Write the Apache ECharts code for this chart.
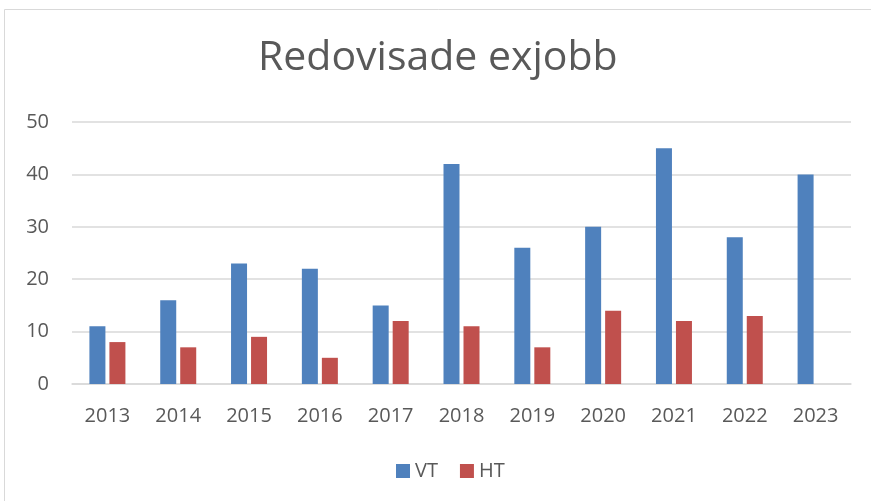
<!DOCTYPE html>
<html>
<head>
<meta charset="utf-8">
<script src="https://cdn.jsdelivr.net/npm/echarts@6/dist/echarts.min.js"></script>
<style>
  html, body { margin: 0; padding: 0; background: #fff; }
  #chart { width: 871px; height: 501px; }
</style>
</head>
<body>
<div id="chart"></div>
<script>
const years = ['2013', '2014', '2015', '2016', '2017', '2018', '2019', '2020', '2021', '2022', '2023'];
const vt = [11, 16, 23, 22, 15, 42, 26, 30, 45, 28, 40];
const ht = [8, 7, 9, 5, 12, 11, 7, 14, 12, 13, null];

const textColor = '#595959';
const font = 'Open Sans';

const chart = echarts.init(document.getElementById('chart'));

chart.setOption({
    animation: false,
    title: {
        text: 'Redovisade exjobb',
        left: 258,
        top: 38,
        padding: 0,
        textStyle: {
            fontFamily: font,
            fontSize: 41,
            fontWeight: 'normal',
            color: textColor
        }
    },
    // chart frame (only top and left edges are visible)
    graphic: [{
        type: 'rect',
        shape: { x: 4.5, y: 9.5, width: 1000, height: 800 },
        style: { fill: 'none', stroke: '#d9d9d9', lineWidth: 1 },
        silent: true
    }],
    legend: {
        bottom: 20,
        left: 396,
        padding: 0,
        itemWidth: 14,
        itemHeight: 14,
        itemGap: 22,
        icon: 'rect',
        textStyle: { fontFamily: font, fontSize: 20, color: textColor },
        data: ['VT', 'HT']
    },
    grid: {
        left: 72,
        right: 20,
        top: 122,
        bottom: 117
    },
    xAxis: {
        type: 'category',
        data: years,
        axisLine: { lineStyle: { color: '#d9d9d9', width: 1.5 } },
        axisTick: { show: false },
        axisLabel: {
            margin: 22,
            fontFamily: font,
            fontSize: 20,
            color: textColor
        }
    },
    yAxis: {
        type: 'value',
        min: 0,
        max: 50,
        interval: 10,
        axisLine: { show: false },
        axisTick: { show: false },
        splitLine: { lineStyle: { color: '#d9d9d9', width: 1.5 } },
        axisLabel: {
            margin: 23,
            fontFamily: font,
            fontSize: 20,
            color: textColor
        }
    },
    series: [
        {
            name: 'VT',
            type: 'bar',
            data: vt,
            barWidth: 16,
            barGap: '25%',
            itemStyle: { color: '#4f81bd' }
        },
        {
            name: 'HT',
            type: 'bar',
            data: ht,
            barWidth: 16,
            itemStyle: { color: '#c0504d' }
        }
    ]
});
</script>
</body>
</html>
